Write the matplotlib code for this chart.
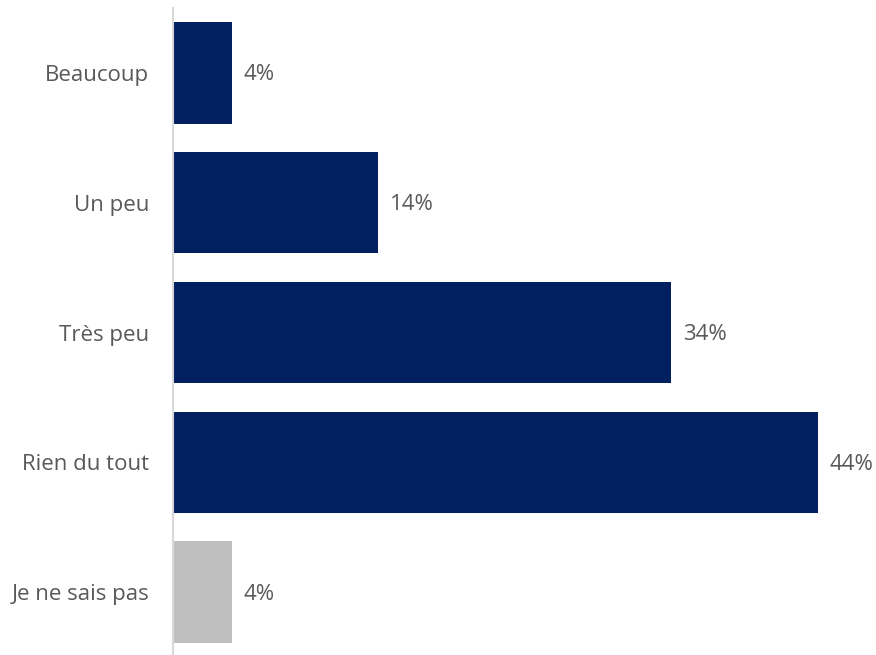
import matplotlib
matplotlib.use("Agg")
import matplotlib.pyplot as plt

categories = ["Beaucoup", "Un peu", "Très peu", "Rien du tout", "Je ne sais pas"]
values = [4, 14, 34, 44, 4]
colors = ["#002060", "#002060", "#002060", "#002060", "#BFBFBF"]

plt.rcParams["font.family"] = ["Open Sans", "DejaVu Sans"]
text_color = "#595959"

W, H = 876, 655
fig = plt.figure(figsize=(W / 100, H / 100), dpi=100)
ax = fig.add_axes([173 / W, (H - 657) / H, 645 / W, 649 / H])

y = list(range(len(categories)))
ax.barh(y, values, height=0.78, color=colors)
ax.set_xlim(0, 44)
ax.set_ylim(len(categories) - 0.5, -0.5)

for yi, v in zip(y, values):
    ax.annotate(f"{v}%", xy=(v, yi), xytext=(12, -2), textcoords="offset pixels",
                va="center", ha="left", fontsize=16, color=text_color,
                annotation_clip=False)

ax.set_yticks(y)
ax.set_yticklabels(categories, fontsize=16, color=text_color)
ax.tick_params(axis="y", length=0, pad=17)
ax.set_xticks([])

for s in ["top", "right", "bottom"]:
    ax.spines[s].set_visible(False)
ax.spines["left"].set_color("#D9D9D9")
ax.spines["left"].set_linewidth(1.5)

fig.savefig("out.png", dpi=100)
